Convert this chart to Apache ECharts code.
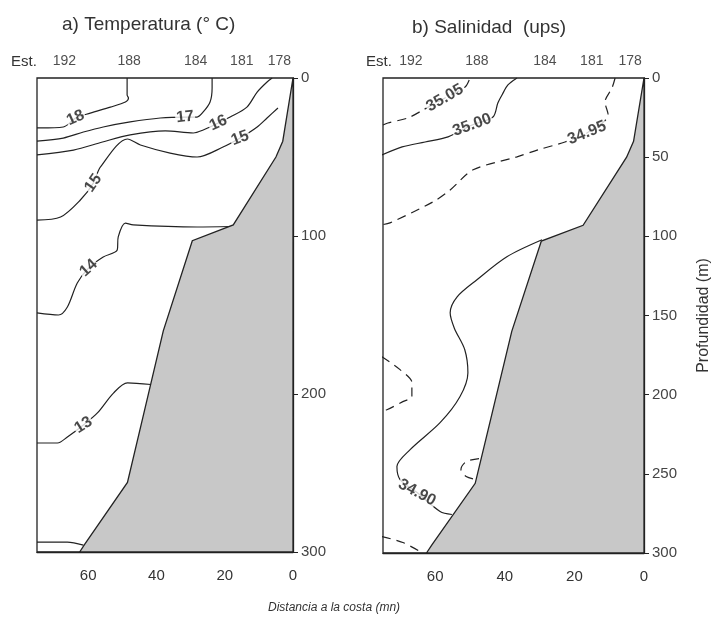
<!DOCTYPE html>
<html>
<head>
<meta charset="utf-8">
<script src="https://cdn.jsdelivr.net/npm/echarts@6/dist/echarts.min.js"></script>
<style>
html,body{margin:0;padding:0;background:#fff;}
#c{width:718px;height:619px;}
</style>
</head>
<body>
<div id="c"></div>
<script>
// ---------- DATA (distance to coast in nm, depth in m) ----------
const xTicksInterval = 20;
const stations = ['192', '188', '184', '181', '178'];
const stationDist = [67, 48, 28.5, 15, 4];

// bottom topography
const topoDist  = [0, 3, 5, 17.5, 29.5, 38, 44, 48.5, 61, 62.5];
const topoDepth = [0, 40, 50, 93, 103, 160, 215, 256, 295, 300];

// Temperature isotherms
const t18 = [[48.6,0],[48.6,10.8],[48.2,12.7],[49.1,15.2],[53.5,18.4],[59.4,22.2],[63.7,25.3],[67.3,31],[74,31.6],[75,31.6]];
const t17 = [[23.7,0],[23.7,6.3],[24.3,15.2],[26.3,21.5],[28.1,24.7],[31.6,24.7],[38.9,25.3],[47.7,27.8],[55.6,31],[61.4,34.2],[67.3,38],[75,39.9]];
const t16 = [[6.1,0],[7.6,2.5],[10.5,8.9],[13.5,18.4],[18.4,24.7],[21.9,28.5],[26.3,32.9],[29.2,34.8],[37.4,33.5],[47.7,36],[55.8,40.5],[64.3,45.6],[75,48.7]];
const t15 = [[4.4,19],[7.6,25.3],[10.5,31],[15.5,38],[20.5,43.7],[28.1,50],[36,47.5],[44.7,42.4],[48.5,38.6],[56.4,56.3],[58.5,66.5],[62.3,77.2],[68.1,88],[75,89.9]];
const t14 = [[18.2,94],[28.1,94.3],[46.8,93],[49.1,91.8],[51.2,100.6],[51.5,108.9],[55.6,113.3],[59.9,120.3],[63.2,129.7],[66.1,144.9],[68.7,150],[75,148.7]];
const t13 = [[41.6,194],[48.5,193],[52.6,199.4],[57.3,212],[61.4,219.6],[66.1,227.2],[69,231],[75,231]];
const t12 = [[61.4,295.6],[66.1,293.7],[75,293.7]];
const tempLines = [t18, t17, t16, t15, t14, t13, t12];
const tempLabelText = ['18', '17', '16', '15', '15', '14', '13'];
const tempLabelAt = [[63.7,25.3],[31.6,24.7],[21.9,28.5],[15.5,38],[58.5,66.5],[59.9,120.3],[61.4,219.6]];
const tempLabelAngle = [24, 6, 24, 20, 55, 42, 32];

// Salinity isohalines
const s3505 = [[75,29.7],[73.6,28.4],[67.8,25.2],[63.5,20.2],[57.2,12.6],[51.4,5.7],[50,0]];
const s3500 = [[75.3,48.6],[69.5,43.5],[62.9,40.4],[56.3,37.2],[49.4,29.7],[43.4,24.6],[42,15.8],[40.8,10.7],[39.1,4.4],[36.5,0]];
const s3495 = [[8.3,0],[9.2,6.3],[11.2,15.1],[10.3,23.3],[16.4,34.7],[22.7,40.4],[30.5,45.4],[36.5,49.8],[49.1,58],[55.7,70.7],[60.6,78.2],[73,91.5],[75.3,92.7]];
const s3490 = [[29.3,102.2],[39.4,112.9],[48,127.4],[53.7,138.2],[55.7,148.3],[54.5,158],[51.5,171.6],[50.6,186.1],[52.9,201.3],[58.6,217.7],[67.2,234.7],[71,245.4],[70.1,253.6],[65.2,261.8],[58.6,273.8],[55.2,275.7]];
const sLoopA = [[75.3,176],[70.1,184.2],[66.7,192.4],[66.7,201.3],[69.3,204.4],[73.9,209.5],[75.3,210]];
const sLoopB = [[47.4,240.4],[51.1,242.3],[52.6,247.3],[51.1,251.7],[48.4,253.5]];
const sLoopC = [[75.3,289.6],[69.3,293.4],[64.4,299]];
const salLines = [s3505, s3500, s3495, s3490, sLoopA, sLoopB, sLoopC];
const salDashed = [true, false, true, false, true, true, true];
const salLabelText = ['35.05', '35.00', '34.95', '34.90'];
const salLabelAt = [[57.2,12.6],[49.4,29.7],[16.4,34.7],[65.2,261.8]];
const salLabelAngle = [30, 20, 22, -28];

// ---------- CHART ----------
const FONT = '"Liberation Sans", Arial, sans-serif';
const chart = echarts.init(document.getElementById('c'), null, {renderer: 'canvas'});

function xAx(g) {
  return {
    type: 'value', gridIndex: g, min: 0, max: 75, interval: xTicksInterval, inverse: true,
    axisLine: {onZero: false, lineStyle: {color: '#222', width: 1.3}},
    axisTick: {inside: true, length: 5, lineStyle: {color: '#222'}},
    axisLabel: {fontSize: 15, color: '#333', fontFamily: FONT, margin: 16, showMaxLabel: false},
    splitLine: {show: false}
  };
}
function yAx(g, iv, extra) {
  return Object.assign({
    type: 'value', gridIndex: g, min: 0, max: 300, interval: iv, inverse: true, position: 'right',
    axisLine: {onZero: false, lineStyle: {color: '#222', width: 1.3}},
    axisTick: {inside: false, length: 5, lineStyle: {color: '#222'}},
    axisLabel: {fontSize: 15, color: '#444', fontFamily: FONT, margin: 8},
    splitLine: {show: false}
  }, extra || {});
}

function topoSeries(g) {
  return {
    type: 'custom', xAxisIndex: g, yAxisIndex: g, z: 5, silent: true,
    data: [0],
    renderItem: function (params, api) {
      const pts = topoDist.map((d, i) => api.coord([d, topoDepth[i]]));
      pts.push(api.coord([0, 300]));
      return {
        type: 'polygon',
        shape: {points: pts},
        style: {fill: '#c8c8c8', stroke: '#222', lineWidth: 1.3}
      };
    }
  };
}

const series = [];
tempLines.forEach(function (l) {
  series.push({
    type: 'line', xAxisIndex: 0, yAxisIndex: 0, data: l, smooth: 0.3, showSymbol: false, z: 3,
    lineStyle: {color: '#222', width: 1.2}, silent: true
  });
});
salLines.forEach(function (l, i) {
  series.push({
    type: 'line', xAxisIndex: 1, yAxisIndex: 1, data: l, smooth: 0.3, showSymbol: false, z: 3,
    lineStyle: {color: '#222', width: 1.2, type: salDashed[i] ? [9, 6] : 'solid'}, silent: true
  });
});
series.push(topoSeries(0), topoSeries(1));

function labelSeries(g, at, texts, angles) {
  return {
    type: 'scatter', xAxisIndex: g, yAxisIndex: g, symbolSize: 0, z: 10, silent: true,
    data: at.map(function (p, i) {
      return {value: p, label: {formatter: texts[i], rotate: angles[i]}};
    }),
    label: {show: true, position: 'inside', fontSize: 16, fontWeight: 'bold', color: '#1a1a1a',
      fontFamily: FONT, backgroundColor: '#fff', padding: [0, 1]}
  };
}
series.push(labelSeries(0, tempLabelAt, tempLabelText, tempLabelAngle));
series.push(labelSeries(1, salLabelAt, salLabelText, salLabelAngle));

function stationSeries(g) {
  return {
    type: 'scatter', xAxisIndex: g, yAxisIndex: g, symbolSize: 0, z: 10, silent: true,
    data: stationDist.map(function (d, i) { return {value: [d, 0], label: {formatter: stations[i]}}; }),
    label: {show: true, position: 'top', distance: 10, fontSize: 14, color: '#222', fontFamily: FONT}
  };
}
series.push(stationSeries(0), stationSeries(1));

chart.setOption({
  animation: false,
  backgroundColor: '#fff',
  grid: [
    {left: 37, top: 78, width: 256, height: 474, show: true, borderColor: '#222', borderWidth: 1.3},
    {left: 383, top: 78, width: 261, height: 475, show: true, borderColor: '#222', borderWidth: 1.3}
  ],
  xAxis: [xAx(0), xAx(1)],
  yAxis: [
    yAx(0, 100),
    yAx(1, 50, {name: 'Profundidad (m)', nameLocation: 'middle', nameGap: 52, nameRotate: 90,
      nameTextStyle: {fontSize: 16, color: '#333', fontFamily: FONT}})
  ],
  series: series,
  graphic: [
    {type: 'text', left: 62, top: 15, style: {text: 'a) Temperatura (° C)', fontSize: 19, fill: '#333', fontFamily: FONT}},
    {type: 'text', left: 412, top: 18, style: {text: 'b) Salinidad  (ups)', fontSize: 19, fill: '#333', fontFamily: FONT}},
    {type: 'text', left: 11, top: 54, style: {text: 'Est.', fontSize: 15, fill: '#333', fontFamily: FONT}},
    {type: 'text', left: 366, top: 54, style: {text: 'Est.', fontSize: 15, fill: '#333', fontFamily: FONT}},
    {type: 'text', left: 268, top: 602, style: {text: 'Distancia a la costa (mn)', fontSize: 12, fontStyle: 'italic', fill: '#333', fontFamily: FONT}}
  ]
});
</script>
</body>
</html>
